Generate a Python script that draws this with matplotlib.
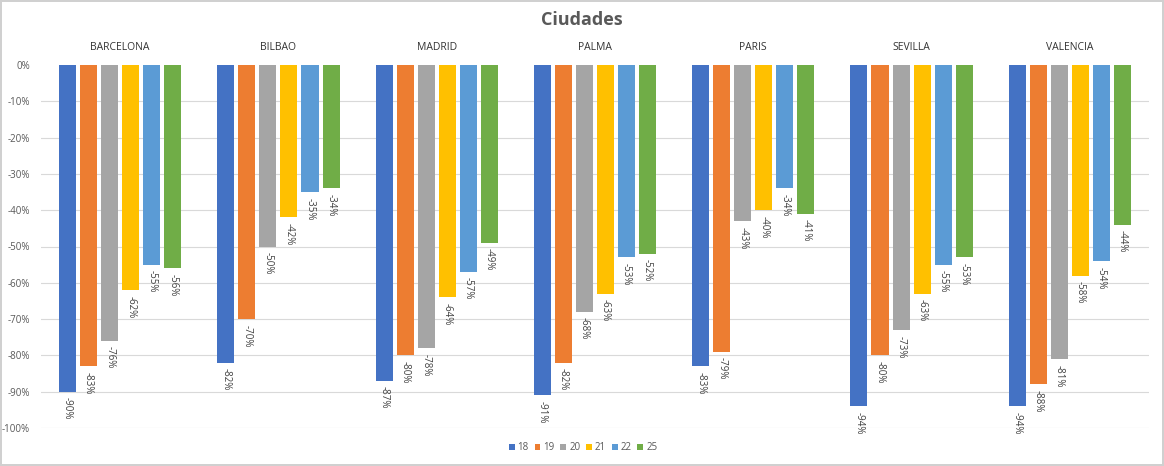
import numpy as np
import matplotlib
matplotlib.use("Agg")
import matplotlib.pyplot as plt
from matplotlib.ticker import FuncFormatter

plt.rcParams['font.family'] = ['Open Sans', 'DejaVu Sans']

# datos
ciudades = ["BARCELONA", "BILBAO", "MADRID", "PALMA", "PARIS", "SEVILLA", "VALENCIA"]
series = ["18", "19", "20", "21", "22", "25"]
v18 = [-90, -82, -87, -91, -83, -94, -94]
v19 = [-83, -70, -80, -82, -79, -80, -88]
v20 = [-76, -50, -78, -68, -43, -73, -81]
v21 = [-62, -42, -64, -63, -40, -63, -58]
v22 = [-55, -35, -57, -53, -34, -55, -54]
v25 = [-56, -34, -49, -52, -41, -53, -44]
valores = [v18, v19, v20, v21, v22, v25]
colores = ["#4472C4", "#ED7D31", "#A5A5A5", "#FFC000", "#5B9BD5", "#70AD47"]

fig = plt.figure(figsize=(11.64, 4.66), dpi=100)
fig.patch.set_edgecolor("#d0d0d0")
fig.patch.set_linewidth(1.5)
ax = fig.add_axes([41 / 1164, 1 - 428 / 466, (1149 - 41) / 1164, (428 - 65) / 466])

x = np.arange(len(ciudades))
paso = 21 / 158
ancho = 17 / 158
for i, (nombre, vals, col) in enumerate(zip(series, valores, colores)):
    pos = x + (i - 2.5) * paso
    ys = np.array(vals) / 100
    ax.bar(pos, ys, width=ancho, color=col, label=nombre, zorder=3)
    for px, py, v in zip(pos, ys, vals):
        ax.annotate(f"{v}%", (px, py), xytext=(0, -4), textcoords="offset points",
                    rotation=270, ha="center", va="top", fontsize=7, color="#404040")

ax.set_xlim(-0.5, len(ciudades) - 0.5)
ax.set_ylim(-1.0, 0)
ax.set_yticks(np.linspace(-1.0, 0, 11))
ax.yaxis.set_major_formatter(FuncFormatter(lambda v, p: f"{round(v * 100):d}%"))
ax.grid(axis="y", color="#d9d9d9", linewidth=0.8, zorder=0)
ax.get_ygridlines()[-1].set_visible(False)
ax.tick_params(axis="y", length=0, labelsize=7, labelcolor="#595959", pad=8)

ax.xaxis.tick_top()
ax.set_xticks(x)
ax.set_xticklabels(ciudades)
ax.tick_params(axis="x", length=0, labelsize=7.5, labelcolor="#333333", pad=9)

for s in ax.spines.values():
    s.set_visible(False)

fig.text(0.5, 1 - 20 / 466, "Ciudades", ha="center", va="center",
         fontsize=13, fontweight="bold", color="#595959")

fig.legend(loc="center", bbox_to_anchor=(583 / 1164, 1 - 448 / 466), ncol=6,
           frameon=False, fontsize=7, handlelength=0.6, handleheight=0.6,
           handletextpad=0.3, columnspacing=0.6, labelcolor="#595959")

fig.savefig("out.png", dpi=100, edgecolor=fig.get_edgecolor())
